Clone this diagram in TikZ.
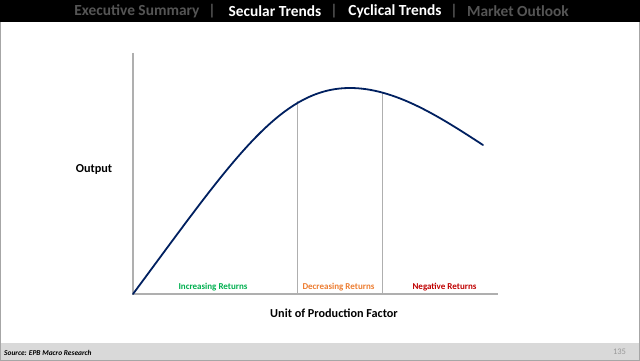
\documentclass[tikz,border=0pt]{standalone}
\usepackage{fontspec}
\setmainfont{Carlito}
\definecolor{navy}{RGB}{0,32,96}
\definecolor{axisgray}{RGB}{175,175,175}
\definecolor{hdrgray}{RGB}{85,85,85}
\definecolor{incgreen}{RGB}{0,176,80}
\definecolor{decorange}{RGB}{237,125,49}
\definecolor{negred}{RGB}{192,0,0}
\definecolor{footgray}{RGB}{217,217,217}
\begin{document}
\begin{tikzpicture}[x=1pt,y=-1pt,
  hdr/.style={font=\fontsize{15.4}{17}\selectfont\bfseries, inner sep=0pt, anchor=center},
  axisline/.style={draw=axisgray, line width=1.1pt},
  divline/.style={draw=axisgray, line width=0.9pt},
  curve/.style={draw=navy, line width=1.8pt},
  retlbl/.style={font=\fontsize{9}{11}\selectfont\bfseries, inner sep=0pt},
  axlbl/.style={font=\fontsize{12.2}{14}\selectfont\bfseries, inner sep=0pt}]
\useasboundingbox (0,0) rectangle (640,361);
% background
\fill[white] (0,0) rectangle (640,361);
\fill[black] (0,0) rectangle (640,22);
\fill[footgray] (1,343) rectangle (639,359.5);
\draw[gray!70, line width=1pt] (0.5,22) -- (0.5,360.5) -- (639.5,360.5) -- (639.5,22);
% header
\node[hdr, text=hdrgray] (h1) at (137,11) {Executive Summary};
\node[hdr, text=hdrgray] (s1) at (212,11) {|};
\node[hdr, text=white] (h2) at (275,11) {Secular Trends};
\node[hdr, text=hdrgray] (s2) at (334,11) {|};
\node[hdr, text=white] (h3) at (395,11) {Cyclical Trends};
\node[hdr, text=hdrgray] (s3) at (454,11) {|};
\node[hdr, text=hdrgray] (h4) at (518,11) {Market Outlook};
% axes
\coordinate (O) at (133,294);
\coordinate (Ytop) at (133,53);
\coordinate (Xend) at (498,294);
\draw[axisline] (Ytop) -- (O) -- (Xend);
% divider lines
\coordinate (d1top) at (297,101);
\coordinate (d1bot) at (297,294);
\coordinate (d2top) at (382,92);
\coordinate (d2bot) at (382,294);
\draw[divline] (d1top) -- (d1bot);
\draw[divline] (d2top) -- (d2bot);
% curve
\coordinate (peak) at (350,88);
\coordinate (cend) at (483,145);
\draw[curve, line cap=round] (O) .. controls (233,159) and (280,88) .. (peak)
  .. controls (395,88) and (440,117) .. (cend);
% labels
\node[retlbl, text=incgreen] (inc) at (213,287) {Increasing Returns};
\node[retlbl, text=decorange] (dec) at (338.5,287) {Decreasing Returns};
\node[retlbl, text=negred] (neg) at (444.5,287) {Negative Returns};
\node[axlbl] (ylab) at (94,169) {Output};
\node[axlbl] (xlab) at (334,313) {Unit of Production Factor};
% footer
\node[font=\fontsize{7.4}{9}\selectfont\bfseries\itshape, anchor=west, inner sep=0pt] (src) at (4,352.5) {Source: EPB Macro Research};
\node[font=\fontsize{8.5}{10}\selectfont, text=gray!80, anchor=center, inner sep=0pt] (pg) at (619.5,352) {135};
\end{tikzpicture}
\end{document}
